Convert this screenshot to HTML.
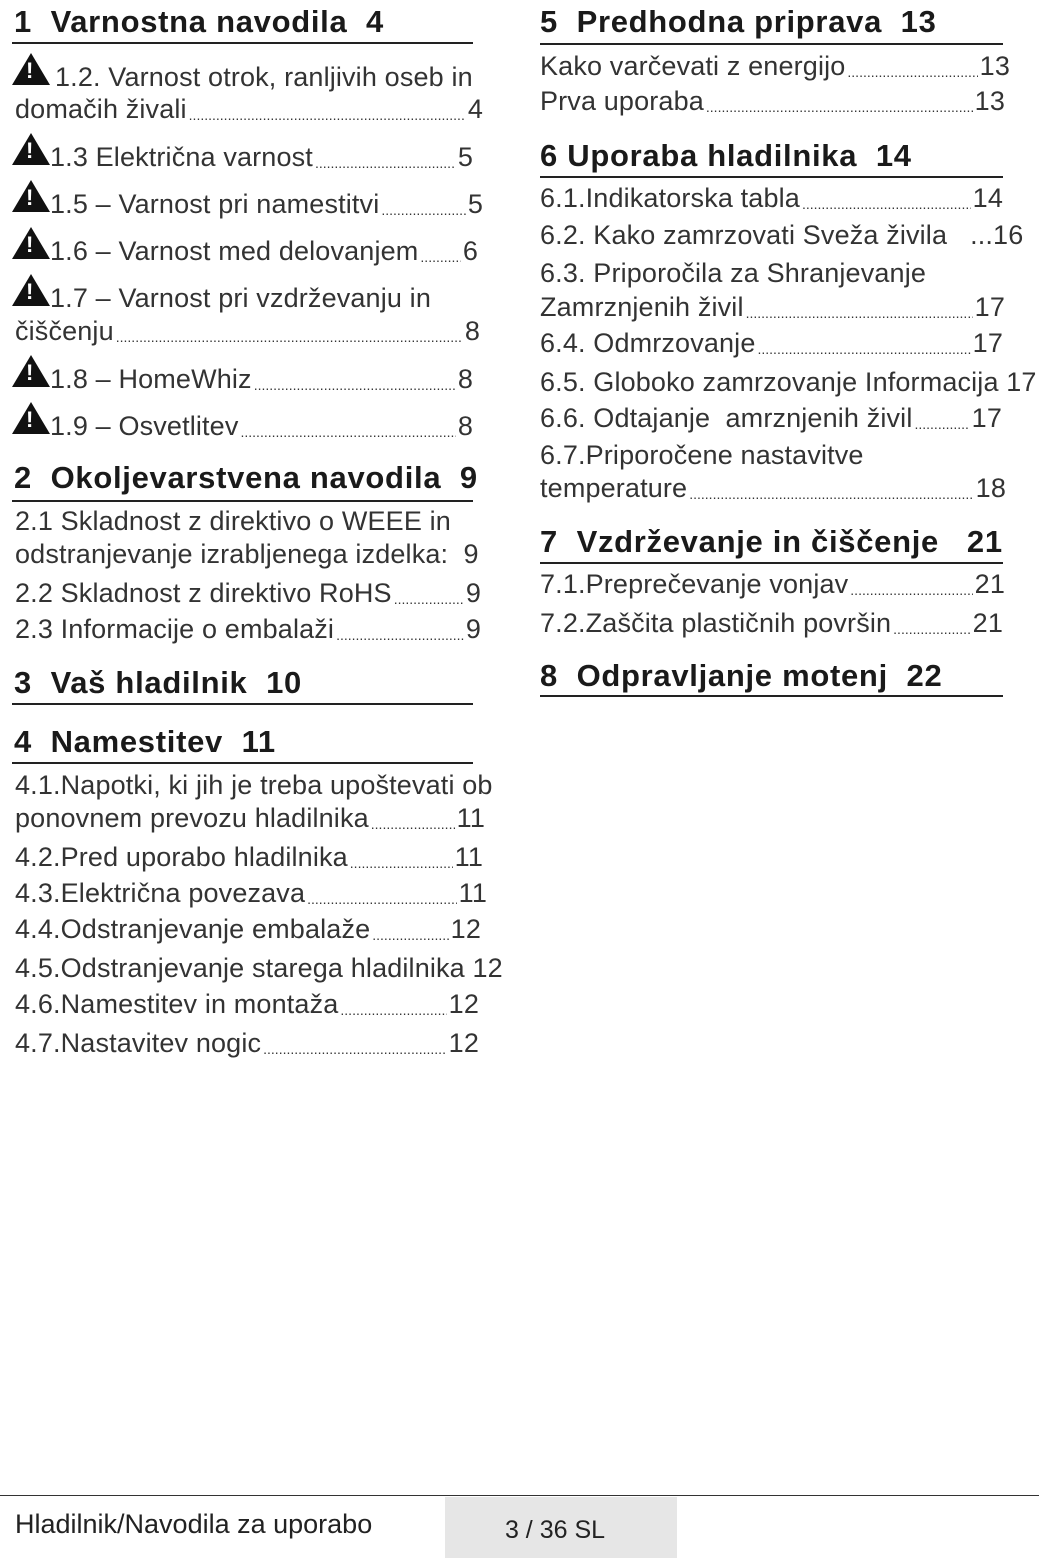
<!DOCTYPE html>
<html><head><meta charset="utf-8"><style>
body{margin:0;width:1039px;height:1568px;background:#fff;position:relative;overflow:hidden;font-family:"Liberation Sans",sans-serif;color:#2a2a2a}
.h{position:absolute;font-weight:bold;font-size:31px;line-height:34px;color:#1a1a1a;white-space:nowrap;letter-spacing:0.7px}
.r{position:absolute;height:2px;background:#222}
.t{position:absolute;font-size:27px;line-height:32px;white-space:nowrap;display:flex;letter-spacing:0.15px;color:#333}
.t .d{flex:1;overflow:hidden;white-space:nowrap;font-size:14px;letter-spacing:0;align-self:flex-end;line-height:20px;margin:0 2px}
.L{left:15px;width:468px}
.R{left:540px;width:465px}
.ic{position:absolute;left:12px;width:0;height:0;border-left:19px solid transparent;border-right:19px solid transparent;border-bottom:32px solid #111}
.ic:after{content:"!";position:absolute;left:-5px;top:5px;color:#fff;font-weight:bold;font-size:22px;line-height:26px}
</style></head><body>
<div class="h" style="left:14px;top:5px">1&nbsp; Varnostna navodila&nbsp; 4</div><div class="r" style="left:12px;top:42px;width:461px"></div>
<div class="ic" style="top:53px"></div><div class="t L" style="top:61px;left:55px;width:430px"><span>1.2. Varnost otrok, ranljivih oseb in</span></div>
<div class="t L" style="top:93px"><span>domačih živali</span><span class="d">................................................................................................</span><span>4</span></div>
<div class="ic" style="top:133px"></div><div class="t L" style="top:141px;left:50px;width:423px"><span>1.3 Električna varnost</span><span class="d">................................................................................</span><span>5</span></div>
<div class="ic" style="top:180px"></div><div class="t L" style="top:188px;left:50px;width:433px"><span>1.5 – Varnost pri namestitvi</span><span class="d">..........................................................</span><span>5</span></div>
<div class="ic" style="top:227px"></div><div class="t L" style="top:235px;left:50px;width:428px"><span>1.6 – Varnost med delovanjem</span><span class="d">..........................................................</span><span>6</span></div>
<div class="ic" style="top:274px"></div><div class="t L" style="top:282px;left:50px"><span>1.7 – Varnost pri vzdrževanju in</span></div>
<div class="t L" style="top:315px;width:465px"><span>čiščenju</span><span class="d">........................................................................................................................</span><span>8</span></div>
<div class="ic" style="top:355px"></div><div class="t L" style="top:363px;left:50px;width:423px"><span>1.8 – HomeWhiz</span><span class="d">........................................................................................</span><span>8</span></div>
<div class="ic" style="top:402px"></div><div class="t L" style="top:410px;left:50px;width:423px"><span>1.9 – Osvetlitev</span><span class="d">........................................................................................</span><span>8</span></div>
<div class="h" style="left:14px;top:461px">2&nbsp; Okoljevarstvena navodila&nbsp; 9</div><div class="r" style="left:12px;top:500px;width:461px"></div>
<div class="t L" style="top:505px"><span>2.1 Skladnost z direktivo o WEEE in</span></div>
<div class="t L" style="top:538px"><span>odstranjevanje izrabljenega izdelka:&nbsp; 9</span></div>
<div class="t L" style="top:577px;width:466px"><span>2.2 Skladnost z direktivo RoHS</span><span class="d">.......................................................</span><span>9</span></div>
<div class="t L" style="top:613px;width:466px"><span>2.3 Informacije o embalaži</span><span class="d">..............................................................</span><span>9</span></div>
<div class="h" style="left:14px;top:666px">3&nbsp; Vaš hladilnik&nbsp; 10</div><div class="r" style="left:12px;top:703px;width:461px"></div>
<div class="h" style="left:14px;top:725px">4&nbsp; Namestitev&nbsp; 11</div><div class="r" style="left:12px;top:762px;width:461px"></div>
<div class="t L" style="top:769px;width:490px"><span>4.1.Napotki, ki jih je treba upoštevati ob</span></div>
<div class="t L" style="top:802px;width:470px"><span>ponovnem prevozu hladilnika</span><span class="d">..............................</span><span>11</span></div>
<div class="t L" style="top:841px;width:468px"><span>4.2.Pred uporabo hladilnika</span><span class="d">..................................</span><span>11</span></div>
<div class="t L" style="top:877px;width:472px"><span>4.3.Električna povezava</span><span class="d">.....................................................</span><span>11</span></div>
<div class="t L" style="top:913px;width:466px"><span>4.4.Odstranjevanje embalaže</span><span class="d">...................................</span><span>12</span></div>
<div class="t L" style="top:952px;width:495px"><span>4.5.Odstranjevanje starega hladilnika 12</span></div>
<div class="t L" style="top:988px;width:464px"><span>4.6.Namestitev in montaža</span><span class="d">............................................</span><span>12</span></div>
<div class="t L" style="top:1027px;width:464px"><span>4.7.Nastavitev nogic</span><span class="d">...................................................................</span><span>12</span></div>

<div class="h" style="left:540px;top:5px">5&nbsp; Predhodna priprava&nbsp; 13</div><div class="r" style="left:540px;top:43px;width:463px"></div>
<div class="t R" style="top:50px;width:470px"><span>Kako varčevati z energijo</span><span class="d">...........................................................</span><span>13</span></div>
<div class="t R" style="top:85px;width:465px"><span>Prva uporaba</span><span class="d">..........................................................................................................</span><span>13</span></div>
<div class="h" style="left:540px;top:139px">6 Uporaba hladilnika&nbsp; 14</div><div class="r" style="left:540px;top:176px;width:463px"></div>
<div class="t R" style="top:182px;width:463px"><span>6.1.Indikatorska tabla</span><span class="d">.........................................................</span><span>14</span></div>
<div class="t R" style="top:219px;width:470px"><span>6.2. Kako zamrzovati Sveža živila&nbsp;&nbsp; ...16</span></div>
<div class="t R" style="top:257px"><span>6.3. Priporočila za Shranjevanje</span></div>
<div class="t R" style="top:291px;width:465px"><span>Zamrznjenih živil</span><span class="d">...............................................................................</span><span>17</span></div>
<div class="t R" style="top:327px;width:463px"><span>6.4. Odmrzovanje</span><span class="d">..........................................................................</span><span>17</span></div>
<div class="t R" style="top:366px;width:495px"><span>6.5. Globoko zamrzovanje Informacija 17</span></div>
<div class="t R" style="top:402px;width:462px"><span>6.6. Odtajanje&nbsp; amrznjenih živil</span><span class="d">...................</span><span>17</span></div>
<div class="t R" style="top:439px"><span>6.7.Priporočene nastavitve</span></div>
<div class="t R" style="top:472px;width:466px"><span>temperature</span><span class="d">....................................................................................................</span><span>18</span></div>
<div class="h" style="left:540px;top:525px">7&nbsp; Vzdrževanje in čiščenje&nbsp;&nbsp; 21</div><div class="r" style="left:540px;top:562px;width:463px"></div>
<div class="t R" style="top:568px;width:465px"><span>7.1.Preprečevanje vonjav</span><span class="d">...................................................</span><span>21</span></div>
<div class="t R" style="top:607px;width:463px"><span>7.2.Zaščita plastičnih površin</span><span class="d">.....................................</span><span>21</span></div>
<div class="h" style="left:540px;top:659px">8&nbsp; Odpravljanje motenj&nbsp; 22</div><div class="r" style="left:540px;top:695px;width:463px"></div>

<div style="position:absolute;left:0;top:1495px;width:1039px;height:1px;background:#333"></div>
<div style="position:absolute;left:445px;top:1497px;width:232px;height:61px;background:#e6e6e6"></div>
<div style="position:absolute;left:15px;top:1509px;font-size:27px;line-height:30px;color:#222">Hladilnik/Navodila za uporabo</div>
<div style="position:absolute;left:445px;width:220px;text-align:center;top:1515px;font-size:25px;line-height:30px;color:#222">3 / 36 SL</div>
</body></html>
